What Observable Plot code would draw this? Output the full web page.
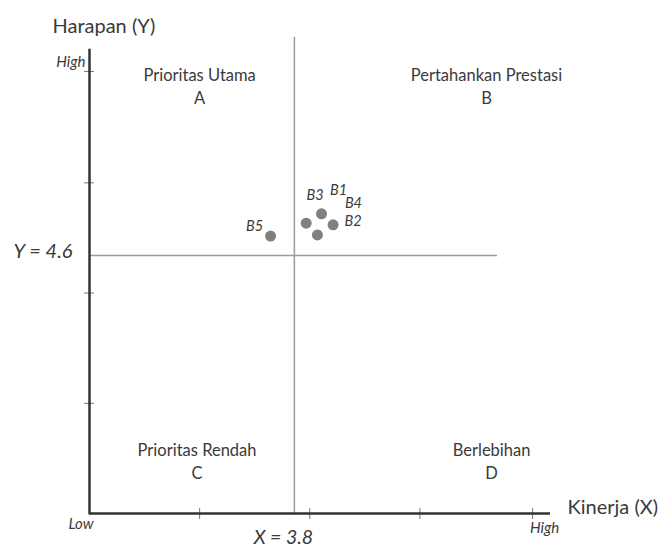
<!DOCTYPE html>
<html><head><meta charset="utf-8">
<script src="https://cdn.jsdelivr.net/npm/d3@7"></script>
<script src="https://cdn.jsdelivr.net/npm/@observablehq/plot@0.6"></script>
<style>body{margin:0;background:#fff} #chart{position:absolute;left:0;top:0}</style>
</head><body><div id="chart"></div>
<script>
// ---- data ----
const attributes = ["B1", "B2", "B3", "B4", "B5"];
const kinerja = [3.906, 3.951, 3.846, 3.890, 3.707];   // X
const harapan = [4.778, 4.731, 4.738, 4.688, 4.683];   // Y
const meanX = 3.8;
const meanY = 4.6;
const xTicks = [3.43, 3.86, 4.29, 4.73];
const yTicks = [3.97, 4.44, 4.91, 5.385];
const quadrantNames = ["Prioritas Utama", "Pertahankan Prestasi", "Prioritas Rendah", "Berlebihan"];
const quadrantLetters = ["A", "B", "C", "D"];

// ---- layout (not data) ----
const quadX = [3.43, 4.55, 3.42, 4.57];
const quadY = [5.327, 5.327, 3.728, 3.728];
const labelOffsets = [[17, -23], [20, -3], [9, -28], [36, -32], [-16, -10]];

const points = attributes.map((a, i) => ({name: a, x: kinerja[i], y: harapan[i]}));
const quads = quadrantNames.map((n, i) => ({text: n + "\n" + quadrantLetters[i], x: quadX[i], y: quadY[i]}));

const FONT = "Lato, 'Open Sans', sans-serif";
const ink = "#3a3a3a";

const labelMarks = points.map((p, i) => Plot.text([p], {
  x: "x", y: "y", text: "name", dx: labelOffsets[i][0], dy: labelOffsets[i][1],
  fontSize: 14.5, fontStyle: "italic", fill: ink
}));

const chart = Plot.plot({
  width: 660, height: 551,
  marginLeft: 89, marginRight: 110, marginTop: 44, marginBottom: 38,
  x: {domain: [3.0, 4.8]},
  y: {domain: [3.5, 5.5]},
  style: {fontFamily: FONT, background: "white", overflow: "visible", color: ink},
  marks: [
    Plot.axisX({ticks: xTicks, tickSize: 11, dy: -5, tickFormat: () => "", stroke: "#777", label: null}),
    Plot.axisY({ticks: yTicks, tickSize: 10, dx: 5, tickFormat: () => "", stroke: "#777", label: null}),
    Plot.ruleX([meanX], {y1: 3.5, y2: 5.53, stroke: "#9a9a9a", strokeWidth: 1.5}),
    Plot.ruleY([meanY], {x1: 3.0, x2: 4.593, stroke: "#9a9a9a", strokeWidth: 1.5}),
    Plot.ruleY([3.5], {x1: 3.0, x2: 4.8, stroke: "#333", strokeWidth: 2.5}),
    Plot.ruleX([3.0], {y1: 3.5, y2: 5.474, stroke: "#333", strokeWidth: 2.5, strokeLinecap: "square"}),
    Plot.dot(points, {x: "x", y: "y", r: 5.5, fill: "#808080"}),
    ...labelMarks,
    Plot.text(quads, {x: "x", y: "y", text: "text", fontSize: 16.5, lineHeight: 1.4, lineAnchor: "middle", fill: ink}),
    Plot.text(["Harapan (Y)"], {frameAnchor: "top-left", dx: -37, dy: -26, textAnchor: "start", fontSize: 20, fill: ink}),
    Plot.text(["High"], {frameAnchor: "top-left", dx: -4, dy: 12, textAnchor: "end", fontSize: 15, fontStyle: "italic", fill: ink}),
    Plot.text(["Low"], {frameAnchor: "bottom-left", dx: -21, dy: 15, textAnchor: "start", fontSize: 15, fontStyle: "italic", fill: ink}),
    Plot.text(["High"], {frameAnchor: "bottom-right", dx: -6, dy: 19, textAnchor: "middle", fontSize: 15, fontStyle: "italic", fill: ink}),
    Plot.text(["Kinerja (X)"], {frameAnchor: "bottom-right", dx: 17, dy: 0, textAnchor: "start", fontSize: 20, fill: ink}),
    Plot.text([meanX], {x: d => d, frameAnchor: "bottom", dx: -11, dy: 30, text: d => "X = " + d.toFixed(1), fontSize: 19.5, fontStyle: "italic", fill: ink}),
    Plot.text([meanY], {y: d => d, frameAnchor: "left", dx: -17, dy: -4, textAnchor: "end", text: d => "Y = " + d.toFixed(1), fontSize: 20, fontStyle: "italic", fill: ink})
  ]
});
document.getElementById("chart").appendChild(chart);
</script>
</body></html>
